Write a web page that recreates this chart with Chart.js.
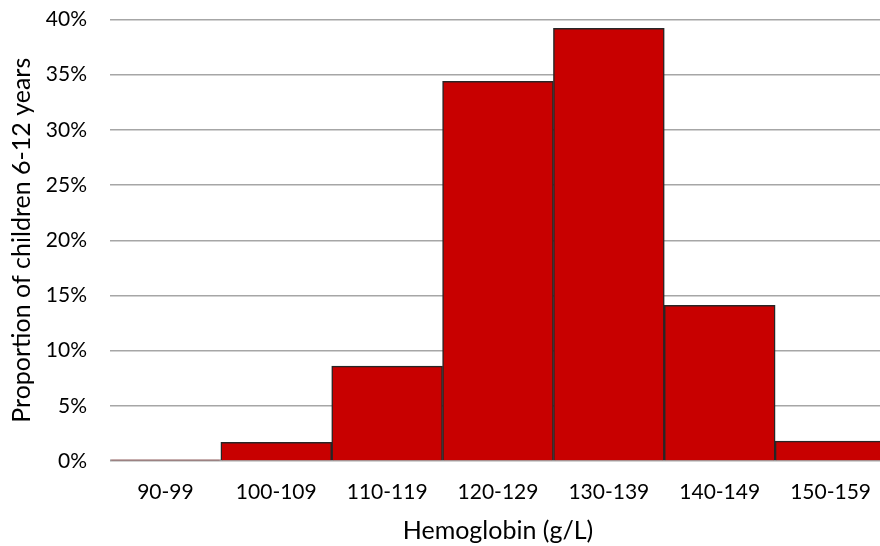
<!DOCTYPE html>
<html>
<head>
<meta charset="utf-8">
<script src="https://cdn.jsdelivr.net/npm/chart.js@4/dist/chart.umd.min.js"></script>
<style>
    html, body { margin: 0; padding: 0; background: #fff; overflow: hidden; }
    /* slightly wider than the window: the last bar runs off the right edge in the original */
    #wrap { width: 886px; height: 546px; }
</style>
</head>
<body>
<div id="wrap"><canvas id="barChart"></canvas></div>
<script>
    // Data
    const categories = ['90-99', '100-109', '110-119', '120-129', '130-139', '140-149', '150-159'];
    const proportions = [0.1, 1.7, 8.6, 34.4, 39.2, 14.1, 1.8];
    const yTicks = [0, 5, 10, 15, 20, 25, 30, 35, 40];

    const fontFamily = "Lato, 'Open Sans', sans-serif";

    const barData = {
        labels: categories,
        datasets: [{
            label: 'Proportion',
            data: proportions,
            backgroundColor: '#C80000',
            borderColor: '#262626',
            borderWidth: 1.5,
            categoryPercentage: 1,
            barPercentage: 1
        }]
    };

    const barOptions = {
        type: 'bar',
        data: barData,
        options: {
            maintainAspectRatio: false,
            responsive: true,
            animation: false,
            layout: { padding: { top: 19.5, right: 0, bottom: 0, left: 0 } },
            plugins: {
                legend: { display: false },
                tooltip: { enabled: false }
            },
            scales: {
                x: {
                    grid: { display: false, drawTicks: false },
                    border: { display: false },
                    ticks: { color: '#000', font: { family: fontFamily, size: 21 }, padding: 19, maxRotation: 0 },
                    title: {
                        display: true,
                        text: 'Hemoglobin (g/L)',
                        color: '#000',
                        font: { family: fontFamily, size: 25 },
                        padding: { top: 0, bottom: 0 }
                    },
                    afterFit: function (axis) {
                        axis.height = 85;
                        axis.paddingLeft = 0;
                        axis.paddingRight = 0;
                    }
                },
                y: {
                    min: 0,
                    max: 40,
                    afterBuildTicks: function (axis) {
                        axis.ticks = yTicks.map(v => ({ value: v }));
                    },
                    grid: { color: '#a6a6a6', lineWidth: 1.5, drawTicks: false },
                    border: { display: false },
                    ticks: {
                        color: '#000',
                        font: { family: fontFamily, size: 21 },
                        padding: 23,
                        callback: v => v + '%'
                    },
                    title: {
                        display: true,
                        text: 'Proportion of children 6-12 years',
                        color: '#000',
                        font: { family: fontFamily, size: 25 },
                        padding: { top: 7, bottom: 0 }
                    },
                    afterFit: function (axis) {
                        axis.width = 110;
                        axis.paddingTop = 0;
                        axis.paddingBottom = 0;
                    }
                }
            }
        }
    };

    new Chart(document.getElementById('barChart'), barOptions);
</script>
</body>
</html>
